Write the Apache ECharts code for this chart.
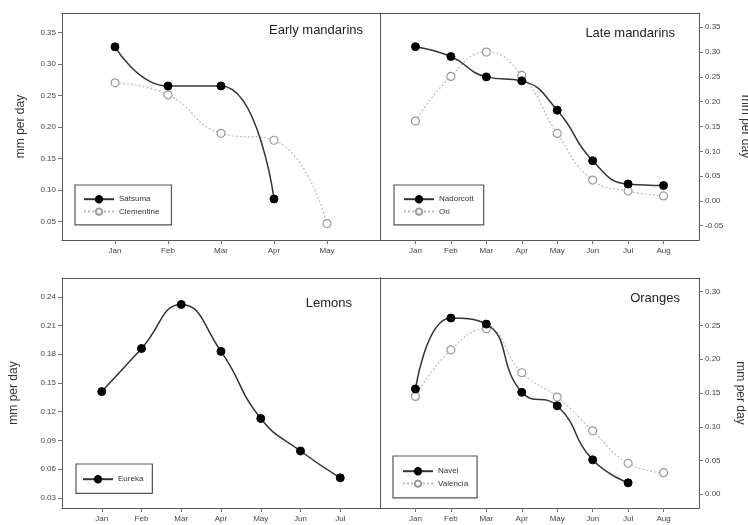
<!DOCTYPE html>
<html><head><meta charset="utf-8">
<script src="https://cdn.jsdelivr.net/npm/echarts@6/dist/echarts.min.js"></script>
<style>html,body{margin:0;padding:0;background:#fff}#c{width:748px;height:525px}</style>
</head><body><div id="c"></div>
<script>
// ---- data ----
const monthsEarly = ['Jan','Feb','Mar','Apr','May'];
const monthsLate = ['Jan','Feb','Mar','Apr','May','Jun','Jul','Aug'];
const monthsLemons = ['Jan','Feb','Mar','Apr','May','Jun','Jul'];
const monthsOranges = ['Jan','Feb','Mar','Apr','May','Jun','Jul','Aug'];

const satsuma = [0.327, 0.265, 0.265, 0.086];
const clementine = [0.270, 0.251, 0.190, 0.179, 0.047];
const nadorcott = [0.311, 0.291, 0.250, 0.242, 0.183, 0.081, 0.034, 0.031];
const ori = [0.161, 0.251, 0.300, 0.253, 0.136, 0.042, 0.020, 0.010];
const eureka = [0.141, 0.186, 0.232, 0.183, 0.113, 0.079, 0.051];
const navel = [0.156, 0.261, 0.252, 0.151, 0.131, 0.051, 0.017];
const valencia = [0.145, 0.214, 0.245, 0.180, 0.144, 0.094, 0.046, 0.032];

const yTicksEarly = [0.05, 0.10, 0.15, 0.20, 0.25, 0.30, 0.35];
const yTicksLate = [-0.05, 0.00, 0.05, 0.10, 0.15, 0.20, 0.25, 0.30, 0.35];
const yTicksLemons = [0.03, 0.06, 0.09, 0.12, 0.15, 0.18, 0.21, 0.24];
const yTicksOranges = [0.00, 0.05, 0.10, 0.15, 0.20, 0.25, 0.30];

const panelTitles = ['Early mandarins', 'Late mandarins', 'Lemons', 'Oranges'];
const yName = 'mm per day';

// ---- build ----
const FONT = 'Liberation Sans, Arial, sans-serif';
const toPts = arr => arr.map((v, i) => [i + 1, v]);
const idx = n => Array.from({length: n}, (_, i) => i + 1);
const LINE = '#555';

function xAxis(gi, months) {
  return {
    type: 'value', gridIndex: gi, min: 0, max: months.length + 1, position: 'bottom',
    axisLine: {show: true, onZero: false, lineStyle: {color: LINE, width: 1}}, splitLine: {show: false},
    axisTick: {show: true, customValues: idx(months.length), length: 4, lineStyle: {color: '#777'}},
    axisLabel: {customValues: idx(months.length), formatter: v => months[v - 1] || '',
      fontSize: 8, color: '#444', fontFamily: FONT, margin: 7}
  };
}
function yAxis(gi, ticks, min, max, pos, gap) {
  return {
    type: 'value', gridIndex: gi, min: min, max: max, position: pos,
    axisLine: {show: true, onZero: false, lineStyle: {color: LINE, width: 1}}, splitLine: {show: false},
    axisTick: {show: true, customValues: ticks, length: 4, lineStyle: {color: '#777'}},
    axisLabel: {customValues: ticks, formatter: v => v.toFixed(2), fontSize: 8, color: '#444', fontFamily: FONT, margin: 6},
    name: yName, nameLocation: 'middle', nameGap: gap, nameRotate: pos === 'left' ? 90 : -90,
    nameTextStyle: {fontSize: 12, color: '#333', fontFamily: FONT}
  };
}
// companion axes that draw the opposite frame sides
function xTop(gi, months) {
  return {type: 'value', gridIndex: gi, min: 0, max: months.length + 1, position: 'top',
    axisLine: {show: true, onZero: false, lineStyle: {color: LINE, width: 1}},
    axisTick: {show: false}, axisLabel: {show: false}, splitLine: {show: false}};
}
function ySide(gi, min, max, pos) {
  return {type: 'value', gridIndex: gi, min: min, max: max, position: pos,
    axisLine: {show: true, onZero: false, lineStyle: {color: LINE, width: 1}},
    axisTick: {show: false}, axisLabel: {show: false}, splitLine: {show: false}};
}
function filled(name, data, gi) {
  return {name: name, type: 'line', xAxisIndex: gi, yAxisIndex: gi, data: toPts(data), smooth: 0.5,
    symbol: 'circle', symbolSize: 8, showSymbol: true,
    itemStyle: {color: '#000', borderColor: '#000', borderWidth: 1},
    lineStyle: {color: '#333', width: 1.5}, z: 3};
}
function open(name, data, gi) {
  return {name: name, type: 'line', xAxisIndex: gi, yAxisIndex: gi, data: toPts(data), smooth: 0.5,
    symbol: 'circle', symbolSize: 8, showSymbol: true,
    itemStyle: {color: '#fff', borderColor: '#999', borderWidth: 1.2},
    lineStyle: {color: '#bbb', width: 1.2, type: [2, 2]}, z: 2};
}
function legend(names, left, top, pad) {
  return {data: names, left: left, top: top, orient: 'vertical', itemWidth: 30, itemHeight: 8, itemGap: 4,
    padding: pad, borderColor: '#555', borderWidth: 1.2, borderRadius: 0, backgroundColor: '#fff',
    textStyle: {fontSize: 8, color: '#333', fontFamily: FONT}, selectedMode: false};
}
function title(text, right, top) {
  return {text: text, right: right, top: top,
    textStyle: {fontSize: 13, fontWeight: 'normal', color: '#222', fontFamily: FONT}};
}

const gridStyle = {show: false, containLabel: false, outerBoundsMode: 'none'};
const option = {
  animation: false,
  backgroundColor: '#fff',
  title: [
    title(panelTitles[0], 748 - 368, 19),
    title(panelTitles[1], 748 - 680, 22),
    title(panelTitles[2], 748 - 357, 292),
    title(panelTitles[3], 748 - 685, 287)
  ],
  grid: [
    Object.assign({left: 62, width: 318, top: 13, height: 227}, gridStyle),
    Object.assign({left: 380, width: 319, top: 13, height: 227}, gridStyle),
    Object.assign({left: 62, width: 318, top: 278, height: 230}, gridStyle),
    Object.assign({left: 380, width: 319, top: 278, height: 230}, gridStyle)
  ],
  xAxis: [xAxis(0, monthsEarly), xAxis(1, monthsLate), xAxis(2, monthsLemons), xAxis(3, monthsOranges),
          xTop(0, monthsEarly), xTop(1, monthsLate), xTop(2, monthsLemons), xTop(3, monthsOranges)],
  yAxis: [
    yAxis(0, yTicksEarly, 0.021, 0.3806, 'left', 35),
    yAxis(1, yTicksLate, -0.0788, 0.3788, 'right', 40),
    yAxis(2, yTicksLemons, 0.0195, 0.2596, 'left', 42),
    yAxis(3, yTicksOranges, -0.0203, 0.3203, 'right', 35),
    ySide(0, 0.021, 0.3806, 'right'),
    ySide(1, -0.0788, 0.3788, 'left'),
    ySide(2, 0.0195, 0.2596, 'right'),
    ySide(3, -0.0203, 0.3203, 'left')
  ],
  legend: [
    legend(['Satsuma', 'Clementine'], 75, 185, [10, 12, 9, 8]),
    legend(['Nadorcott', 'Ori'], 394, 185, [10, 10, 9, 9]),
    legend(['Eureka'], 76, 464, [11, 9, 10, 6]),
    legend(['Navel', 'Valencia'], 393, 456, [11, 9, 10, 9])
  ],
  series: [
    filled('Satsuma', satsuma, 0),
    open('Clementine', clementine, 0),
    filled('Nadorcott', nadorcott, 1),
    open('Ori', ori, 1),
    filled('Eureka', eureka, 2),
    filled('Navel', navel, 3),
    open('Valencia', valencia, 3)
  ]
};
const chart = echarts.init(document.getElementById('c'), null, {renderer: 'canvas'});
chart.setOption(option);
</script>
</body></html>
